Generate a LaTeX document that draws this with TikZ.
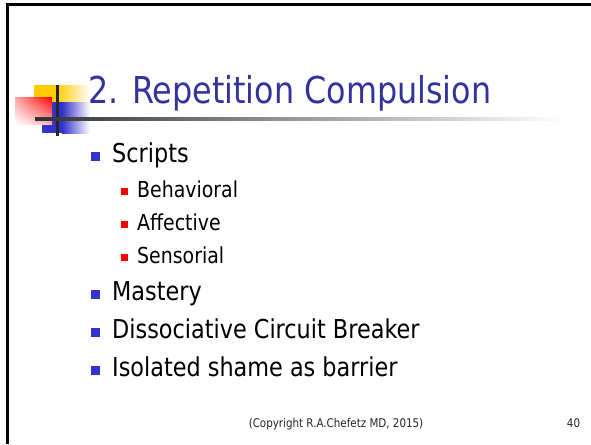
\documentclass[tikz,border=0pt]{standalone}
\usepackage{fontspec}
\setmainfont{DejaVu Sans}[FakeStretch=0.86]
\usetikzlibrary{positioning,shadings}
\definecolor{titleblue}{RGB}{51,51,158}
\definecolor{bulletblue}{RGB}{51,51,204}
\definecolor{logoyellow}{RGB}{255,204,0}

\begin{document}
\begin{tikzpicture}[x=1pt,y=-1pt,
  item/.style={anchor=base west, inner sep=0pt, font=\fontsize{26}{30}\selectfont},
  subitem/.style={anchor=base west, inner sep=0pt, font=\fontsize{22}{26}\selectfont},
  bigbullet/.style={fill=bulletblue, minimum size=9pt, inner sep=0pt, anchor=south east},
  smallbullet/.style={fill=red, minimum size=7pt, inner sep=0pt, anchor=south east},
  footer/.style={anchor=base, inner sep=0pt, text=black!85, font=\fontsize{12}{14}\selectfont}]

  \fill[white] (0,0) rectangle (591,444);
  \useasboundingbox (0,0) rectangle (591,444);

  % slide frame
  \draw[line width=3pt, miter limit=10] (7.5,444) -- (7.5,5) -- (591,5);

  % logo
  \fill[logoyellow] (34,85) rectangle (56,102);
  \shade[left color=logoyellow, right color=white] (56,85) rectangle (90,102);
  \fill[bulletblue] (42,102) rectangle (62,133);
  \shade[left color=bulletblue, right color=white] (62,102) rectangle (90,133);
  \shade[upper left=red!35, upper right=red, lower left=white, lower right=red!30]
    (15,97) rectangle (52,124);
  \fill[black!85] (55.5,85) rectangle (58.5,136);
  \shade[left color=black!80, right color=white] (35,117.5) rectangle (565,120.5);

  \node[anchor=base west, inner sep=0pt, text=titleblue,
        font=\fontsize{37}{42}\selectfont] (title) at (88,103) {2. Repetition Compulsion};

  \node[item] (scripts) at (112,162) {Scripts};
  \node[subitem] (behav) at ([xshift=25pt,yshift=-35pt]scripts.base west) {Behavioral};
  \node[subitem] (affect) at ([yshift=-33pt]behav.base west) {Affective};
  \node[subitem] (senso) at ([yshift=-33pt]affect.base west) {Sensorial};
  \node[item] (mastery) at ([xshift=-25pt,yshift=-37pt]senso.base west) {Mastery};
  \node[item] (dissoc) at ([yshift=-38pt]mastery.base west) {Dissociative Circuit Breaker};
  \node[item] (isolated) at ([yshift=-38pt]dissoc.base west) {Isolated shame as barrier};

  \node[bigbullet] (b-scripts) at ([xshift=-12pt,yshift=1pt]scripts.base west) {};
  \node[smallbullet] (b-behav) at ([xshift=-9pt,yshift=2pt]behav.base west) {};
  \node[smallbullet] (b-affect) at ([xshift=-9pt,yshift=2pt]affect.base west) {};
  \node[smallbullet] (b-senso) at ([xshift=-9pt,yshift=2pt]senso.base west) {};
  \node[bigbullet] (b-mastery) at ([xshift=-12pt,yshift=1pt]mastery.base west) {};
  \node[bigbullet] (b-dissoc) at ([xshift=-12pt,yshift=1pt]dissoc.base west) {};
  \node[bigbullet] (b-isolated) at ([xshift=-12pt,yshift=1pt]isolated.base west) {};

  \node[footer] (copyright) at (336,427) {(Copyright R.A.Chefetz MD, 2015)};
  \node[footer] (pagenum) at (573.5,427) {40};
\end{tikzpicture}
\end{document}
